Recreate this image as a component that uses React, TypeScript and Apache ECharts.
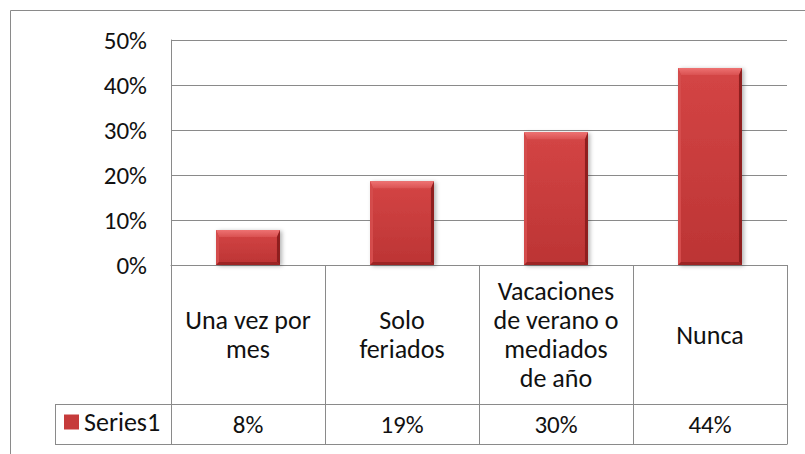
import React, { useEffect, useRef } from "react";
import * as echarts from "echarts";

const categories = [
  "Una vez por\nmes",
  "Solo\nferiados",
  "Vacaciones\nde verano o\nmediados\nde año",
  "Nunca",
];
const values = [0.078, 0.186, 0.295, 0.438];
const seriesName = "Series1";
const yMin = 0;
const yMax = 0.5;
const yInterval = 0.1;

const pct = (v: number) => `${Math.round(v * 100)}%`;

const FONT = "Carlito, Lato, 'Liberation Sans', sans-serif";
const LINE = "#8a8a8a";

// layout
const G_LEFT = 171;
const G_TOP = 40;
const G_W = 616;
const G_H = 225;
const AXIS_Y = G_TOP + G_H; // 265
const ROW1 = 404;
const ROW2 = 444;
const LEG_LEFT = 55;

export default function App() {
  const ref = useRef<HTMLDivElement>(null);
  useEffect(() => {
    if (!ref.current) return;
    const chart = echarts.init(ref.current, undefined, { renderer: "svg" });
    const option: any = {
      animation: false,
      backgroundColor: "#ffffff",
      textStyle: { fontFamily: FONT },
      grid: { left: G_LEFT, top: G_TOP, width: G_W, height: G_H },
      legend: {
        show: true,
        left: 64,
        top: 409,
        padding: 0,
        itemWidth: 15,
        itemHeight: 15,
        icon: "rect",
        textStyle: { fontSize: 26, color: "#111", fontFamily: FONT },
        data: [{ name: seriesName }],
      },
      xAxis: [
        {
          type: "category",
          data: categories,
          position: "bottom",
          axisLine: { show: true, lineStyle: { color: LINE, width: 1 } },
          axisTick: {
            show: true,
            length: ROW2 - AXIS_Y,
            lineStyle: { color: LINE, width: 1 },
          },
          axisLabel: {
            interval: 0,
            margin: (ROW1 - AXIS_Y) / 2,
            verticalAlign: "middle",
            align: "center",
            lineHeight: 29,
            fontSize: 26,
            color: "#111",
            fontFamily: FONT,
          },
          splitLine: { show: false },
        },
        {
          type: "category",
          data: categories,
          position: "bottom",
          axisLine: { show: false },
          axisTick: { show: false },
          axisLabel: {
            interval: 0,
            margin: (ROW1 + ROW2) / 2 - AXIS_Y,
            verticalAlign: "middle",
            align: "center",
            fontSize: 25,
            color: "#111",
            fontFamily: FONT,
            formatter: (_v: string, i: number) => pct(values[i]),
          },
          splitLine: { show: false },
        },
      ],
      yAxis: {
        type: "value",
        min: yMin,
        max: yMax,
        interval: yInterval,
        axisLine: { show: true, lineStyle: { color: LINE, width: 1 } },
        axisTick: { show: false },
        splitLine: { show: true, lineStyle: { color: LINE, width: 1 } },
        axisLabel: {
          margin: 24,
          fontSize: 25,
          color: "#111",
          fontFamily: FONT,
          formatter: (v: number) => pct(v),
        },
      },
      graphic: [
        {
          type: "rect",
          shape: { x: 10.5, y: 10.5, width: 900, height: 600 },
          style: { fill: "none", stroke: LINE, lineWidth: 1 },
          silent: true,
          z: -1,
        },
        {
          type: "line",
          shape: { x1: LEG_LEFT, y1: ROW1 + 0.5, x2: G_LEFT + G_W, y2: ROW1 + 0.5 },
          style: { stroke: LINE, lineWidth: 1 },
          silent: true,
        },
        {
          type: "line",
          shape: { x1: LEG_LEFT, y1: ROW2 + 0.5, x2: G_LEFT + G_W + 0.5, y2: ROW2 + 0.5 },
          style: { stroke: LINE, lineWidth: 1 },
          silent: true,
        },
        {
          type: "line",
          shape: { x1: LEG_LEFT + 0.5, y1: ROW1, x2: LEG_LEFT + 0.5, y2: ROW2 + 1 },
          style: { stroke: LINE, lineWidth: 1 },
          silent: true,
        },
      ],
      series: [
        {
          name: seriesName,
          type: "custom",
          xAxisIndex: 0,
          yAxisIndex: 0,
          itemStyle: { color: "#C63B3B" },
          encode: { x: 0, y: 1 },
          data: values.map((v, i) => [i, v]),
          renderItem: (params: any, api: any) => {
            const idx = api.value(0);
            const v = api.value(1);
            const top = api.coord([idx, v]);
            const base = api.coord([idx, 0]);
            const bw = api.size([1, 0])[0] * 0.415;
            const x0 = top[0] - bw / 2;
            const x1 = top[0] + bw / 2;
            const y0 = top[1];
            const y1 = base[1];
            const h = y1 - y0;
            const bt = Math.min(7, h / 3);
            const bs = 3;
            const bb = 3;
            return {
              type: "group",
              children: [
                {
                  type: "rect",
                  shape: { x: x0, y: y0, width: bw, height: h },
                  style: {
                    fill: new echarts.graphic.LinearGradient(0, 0, 0, 1, [
                      { offset: 0, color: "#D44545" },
                      { offset: 1, color: "#BC3434" },
                    ]),
                    shadowBlur: 4,
                    shadowOffsetX: 2,
                    shadowOffsetY: 1,
                    shadowColor: "rgba(0,0,0,0.3)",
                  },
                },
                {
                  type: "polygon",
                  shape: {
                    points: [
                      [x0, y0],
                      [x1, y0],
                      [x1 - bs, y0 + bt],
                      [x0 + bs, y0 + bt],
                    ],
                  },
                  style: {
                    fill: new echarts.graphic.LinearGradient(0, 0, 0, 1, [
                      { offset: 0, color: "#EE7272" },
                      { offset: 1, color: "#DA5252" },
                    ]),
                  },
                },
                {
                  type: "polygon",
                  shape: {
                    points: [
                      [x0, y0],
                      [x0 + bs, y0 + bt],
                      [x0 + bs, y1 - bb],
                      [x0, y1],
                    ],
                  },
                  style: { fill: "#D44C4C" },
                },
                {
                  type: "polygon",
                  shape: {
                    points: [
                      [x1, y0],
                      [x1, y1],
                      [x1 - bs, y1 - bb],
                      [x1 - bs, y0 + bt],
                    ],
                  },
                  style: { fill: "#8E1E1E" },
                },
                {
                  type: "polygon",
                  shape: {
                    points: [
                      [x0, y1],
                      [x0 + bs, y1 - bb],
                      [x1 - bs, y1 - bb],
                      [x1, y1],
                    ],
                  },
                  style: { fill: "#9C2424" },
                },
              ],
            };
          },
        },
      ],
    };
    chart.setOption(option);
    return () => chart.dispose();
  }, []);
  return (
    <div
      ref={ref}
      style={{ position: "fixed", left: 0, top: 0, width: 805, height: 454 }}
    />
  );
}
